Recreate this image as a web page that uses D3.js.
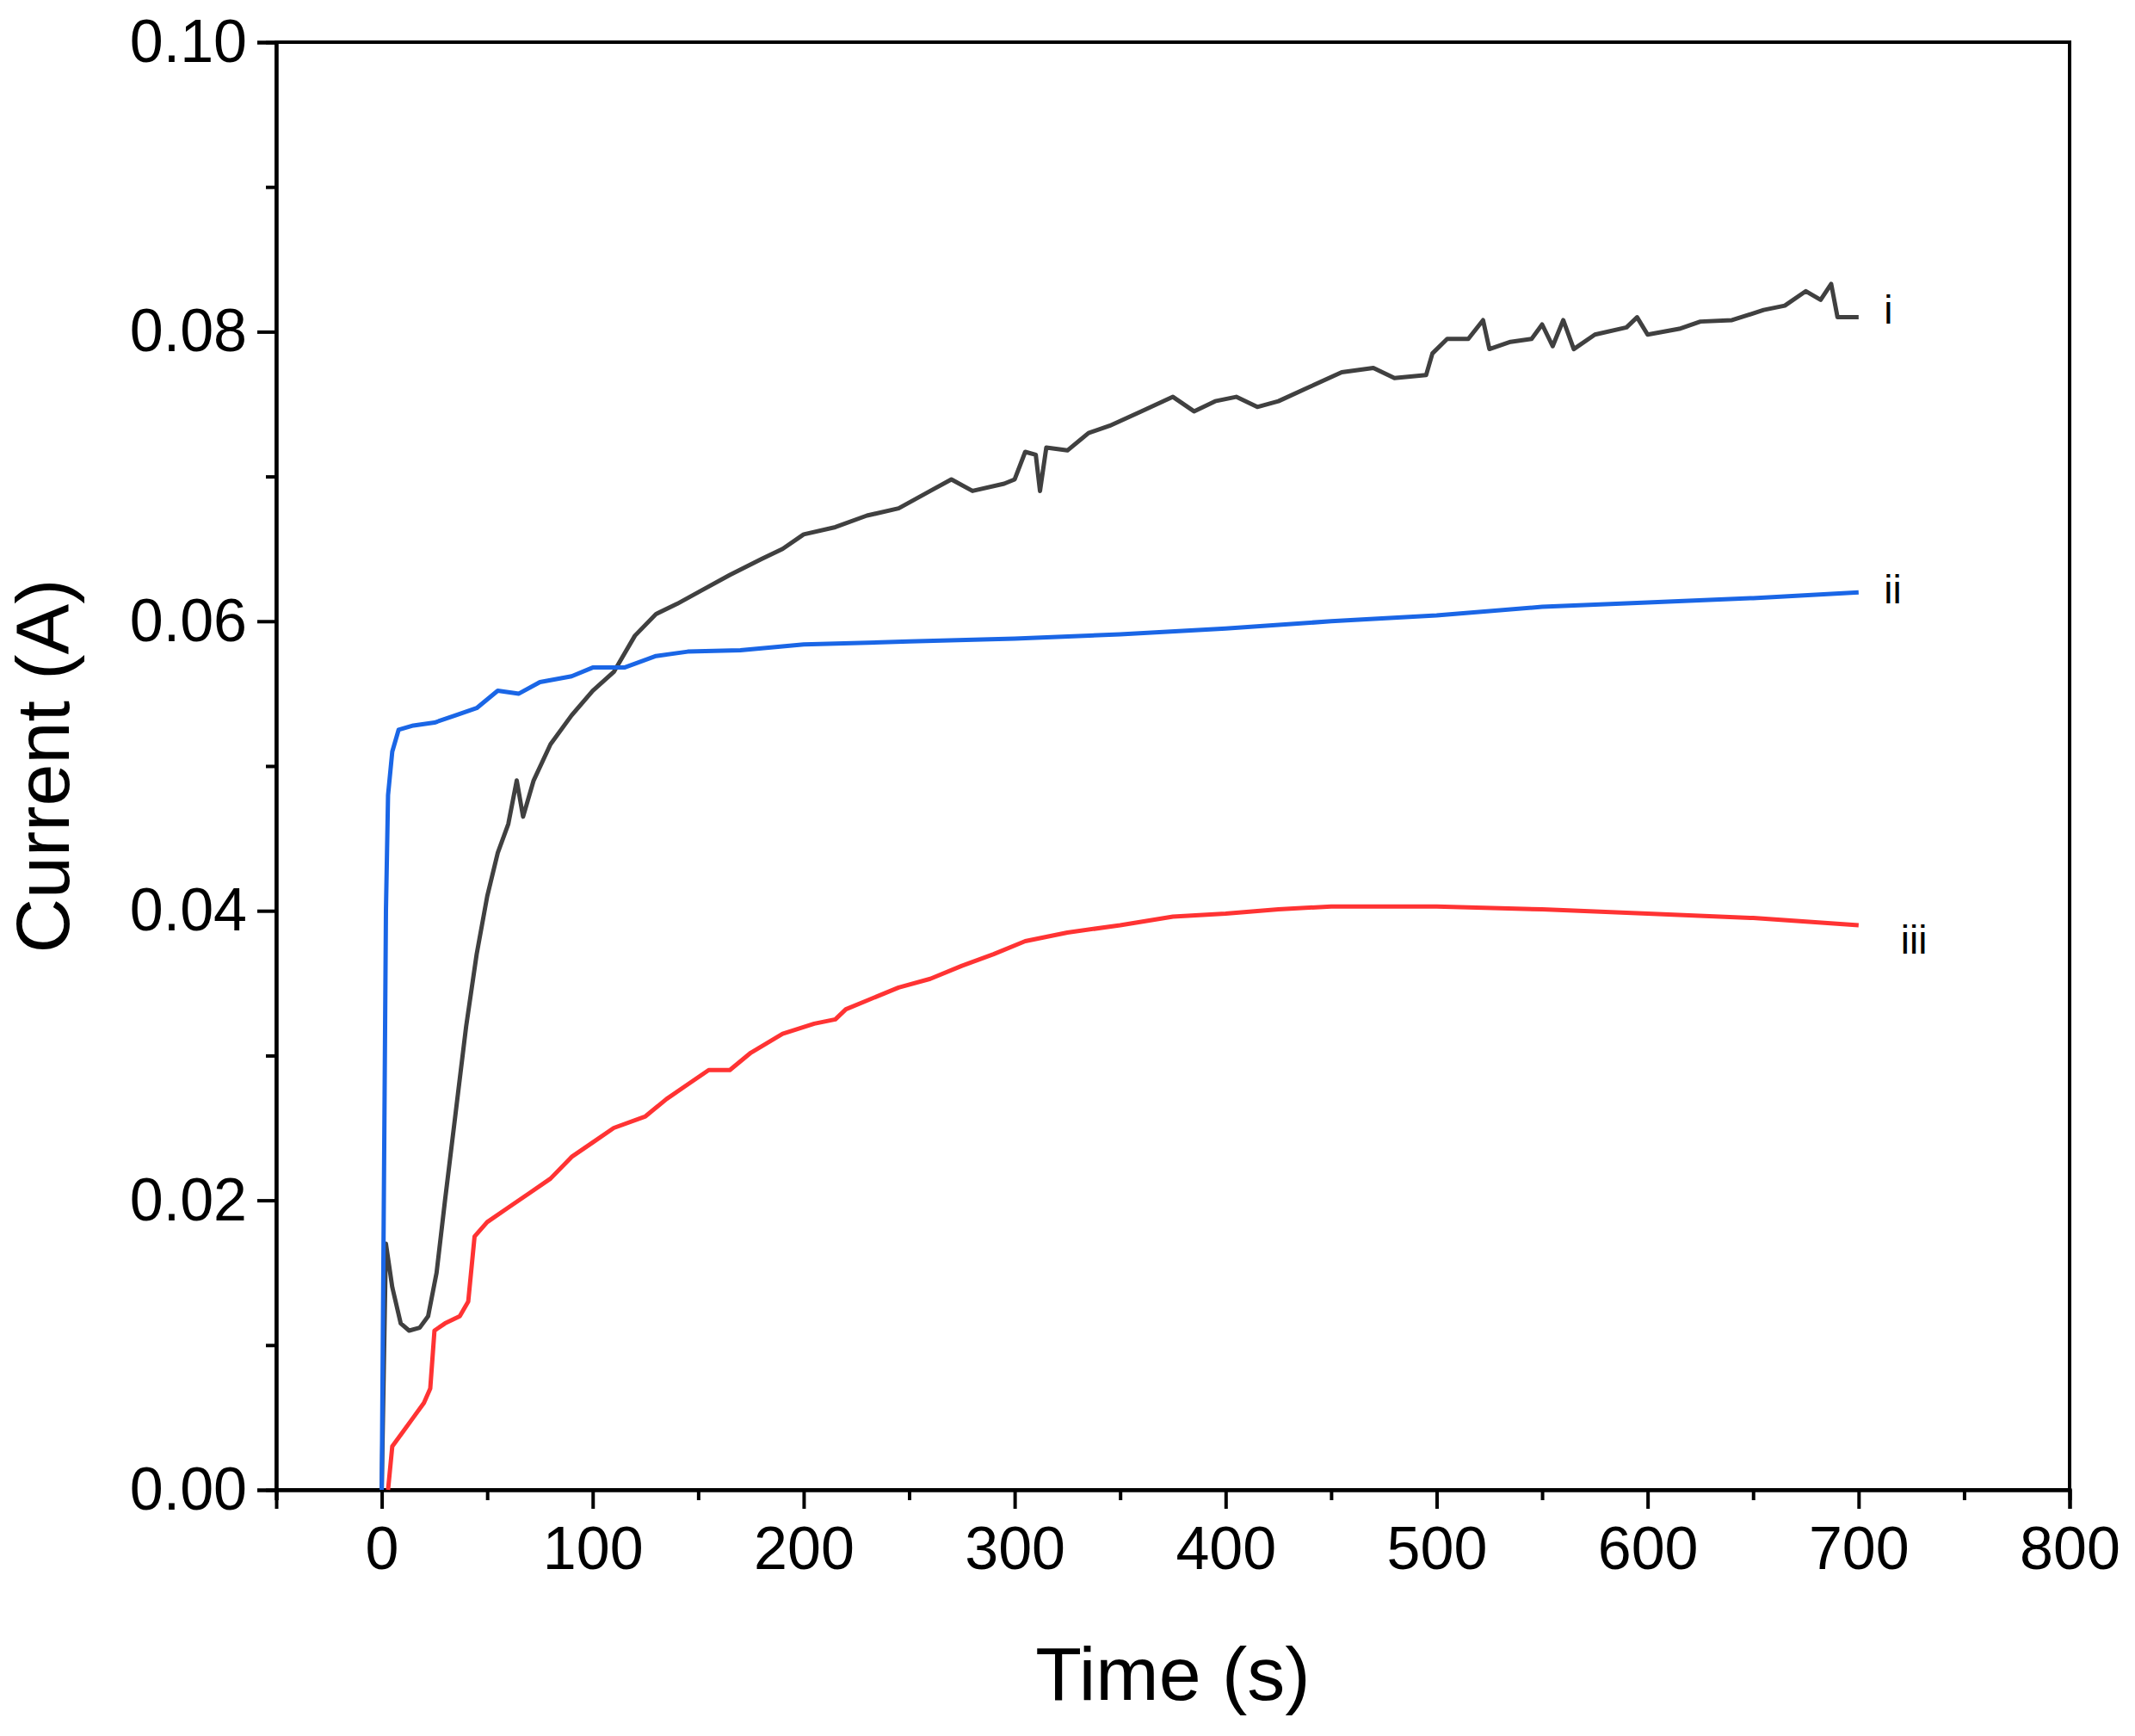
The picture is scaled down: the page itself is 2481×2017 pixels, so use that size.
<!DOCTYPE html>
<html><head><meta charset="utf-8">
<script src="https://cdn.jsdelivr.net/npm/d3@7"></script>
<style>body{margin:0;background:#fff}text{font-family:Arial,"Liberation Sans",sans-serif}</style>
</head><body><svg id="c" width="2481" height="2017"></svg>
<script>
// data: [time s, current A]
var curveI = [[0,0],[2,0.017],[5,0.014],[9,0.0115],[13,0.011],[18,0.0112],[22,0.012],[26,0.015],[30,0.02],[35,0.026],[40,0.032],[45,0.037],[50,0.041],[55,0.044],[60,0.046],[64,0.049],[67,0.0465],[72,0.049],[80,0.0515],[90,0.0535],[100,0.0552],[110,0.0565],[120,0.059],[130,0.0605],[140,0.0612],[150,0.062],[165,0.0632],[180,0.0643],[190,0.065],[200,0.066],[215,0.0665],[230,0.0673],[245,0.0678],[260,0.069],[270,0.0698],[280,0.069],[295,0.0695],[300,0.0698],[305,0.0717],[310,0.0715],[312,0.069],[315,0.072],[325,0.0718],[335,0.073],[345,0.0735],[360,0.0745],[375,0.0755],[385,0.0745],[395,0.0752],[405,0.0755],[415,0.0748],[425,0.0752],[440,0.0762],[455,0.0772],[470,0.0775],[480,0.0768],[495,0.077],[498,0.0785],[505,0.0795],[515,0.0795],[522,0.0808],[525,0.0788],[535,0.0793],[545,0.0795],[550,0.0805],[555,0.079],[560,0.0808],[565,0.0788],[575,0.0798],[590,0.0803],[595,0.081],[600,0.0798],[615,0.0802],[625,0.0807],[640,0.0808],[655,0.0815],[665,0.0818],[675,0.0828],[682,0.0822],[687,0.0833],[690,0.081],[700,0.081]];
var curveII = [[0,0],[1,0.02],[2,0.04],[3,0.048],[5,0.051],[8,0.0525],[15,0.0528],[25,0.053],[35,0.0535],[45,0.054],[55,0.0552],[65,0.055],[75,0.0558],[90,0.0562],[100,0.0568],[115,0.0568],[130,0.0576],[145,0.0579],[170,0.058],[200,0.0584],[250,0.0586],[300,0.0588],[350,0.0591],[400,0.0595],[450,0.06],[500,0.0604],[550,0.061],[600,0.0613],[650,0.0616],[700,0.062]];
var curveIII = [[3,0],[5,0.003],[10,0.004],[15,0.005],[20,0.006],[23,0.007],[25,0.011],[30,0.0115],[37,0.012],[41,0.013],[44,0.0175],[50,0.0185],[60,0.0195],[70,0.0205],[80,0.0215],[90,0.023],[100,0.024],[110,0.025],[125,0.0258],[135,0.027],[145,0.028],[155,0.029],[165,0.029],[175,0.0302],[190,0.0315],[205,0.0322],[215,0.0325],[220,0.0332],[230,0.0338],[245,0.0347],[260,0.0353],[275,0.0362],[290,0.037],[305,0.0379],[325,0.0385],[350,0.039],[375,0.0396],[400,0.0398],[425,0.0401],[450,0.0403],[475,0.0403],[500,0.0403],[550,0.0401],[600,0.0398],[650,0.0395],[700,0.039]];
var seriesNames = ["i","ii","iii"];
var seriesColors = ["#404040","#1a66e6","#ff3333"];
var labelPos = [[712,0.0815],[712,0.0622],[720,0.038]];
var xTicks = [0,100,200,300,400,500,600,700,800];
var yTicks = [0,0.02,0.04,0.06,0.08,0.10];

var L=321,R=2405,T=49,B=1731;
var svg=d3.select("#c");
var x=d3.scaleLinear().domain([-50,800]).range([L,R]);
var y=d3.scaleLinear().domain([0,0.1]).range([B,T]);

// frame
svg.append("rect").attr("x",L).attr("y",T).attr("width",R-L).attr("height",B-T)
  .attr("fill","none").attr("stroke","#000").attr("stroke-width",4);

svg.append("g").attr("transform","translate(0,"+B+")")
  .call(d3.axisBottom(x).tickValues(xTicks).tickSize(22).tickPadding(20).tickFormat(d3.format("d")));
svg.append("g").attr("transform","translate(0,"+B+")")
  .call(d3.axisBottom(x).tickValues(d3.range(-50,801,50).filter(v=>v%100)).tickSize(12).tickFormat(""));
svg.append("g").attr("transform","translate("+L+",0)")
  .call(d3.axisLeft(y).tickValues(yTicks).tickSize(22).tickPadding(12).tickFormat(d3.format(".2f")));
svg.append("g").attr("transform","translate("+L+",0)")
  .call(d3.axisLeft(y).tickValues(d3.range(0.01,0.1,0.02)).tickSize(12).tickFormat(""));
svg.selectAll(".domain").attr("stroke-width",4);
svg.selectAll(".tick line").attr("stroke-width",4);
svg.selectAll(".tick text").attr("font-size",70).attr("fill","#000");

var line=d3.line().x(d=>x(d[0])).y(d=>y(d[1]));
[curveI,curveII,curveIII].forEach(function(c,i){
  svg.append("path").datum(c).attr("d",line).attr("fill","none")
    .attr("stroke",seriesColors[i]).attr("stroke-width",5).attr("stroke-linejoin","round");
  svg.append("text").attr("x",x(labelPos[i][0])).attr("y",y(labelPos[i][1])).attr("dy","0.35em")
    .attr("font-size",46).text(seriesNames[i]);
});

svg.append("text").attr("x",(L+R)/2).attr("y",1975).attr("text-anchor","middle")
  .attr("font-size",88).text("Time (s)");
svg.append("text").attr("transform","translate(80,"+(T+B)/2+") rotate(-90)").attr("text-anchor","middle")
  .attr("font-size",88).text("Current (A)");
</script></body></html>
